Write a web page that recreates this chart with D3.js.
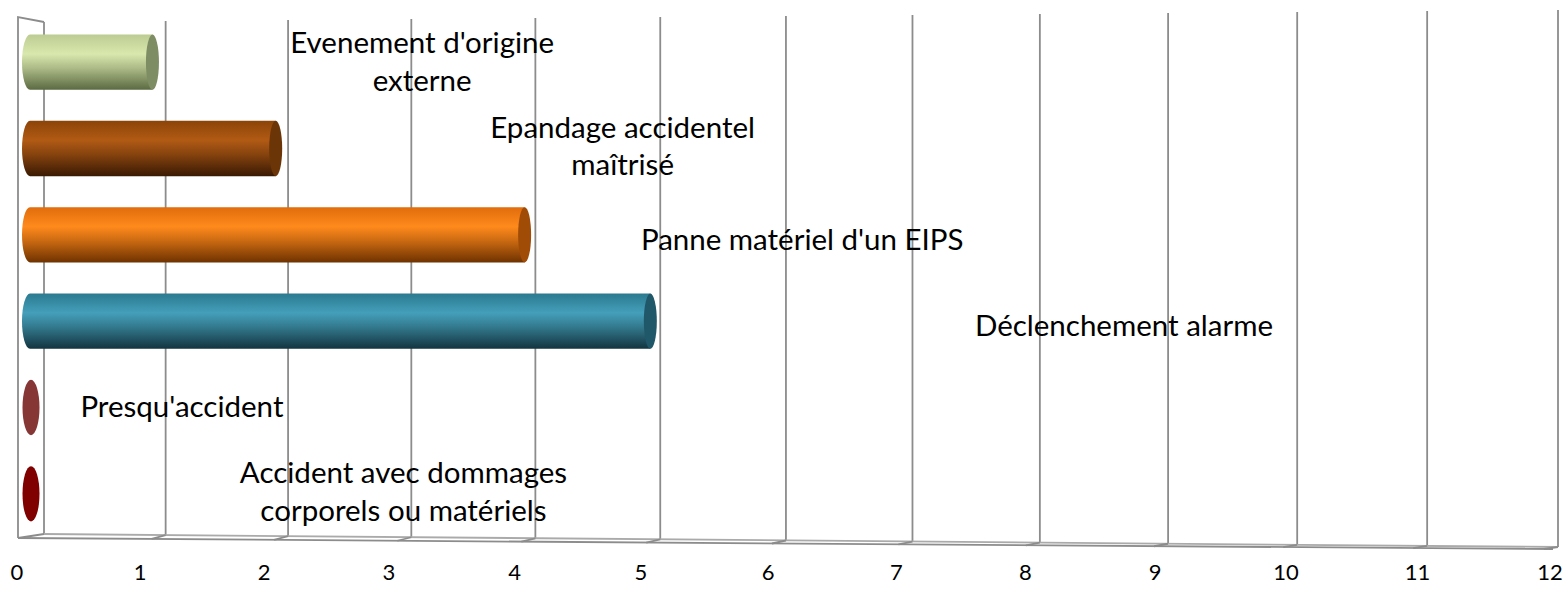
<!DOCTYPE html>
<html>
<head>
<meta charset="utf-8">
<script src="https://cdn.jsdelivr.net/npm/d3@7"></script>
<style>
  html, body { margin: 0; padding: 0; background: #fff; }
  svg { display: block; }
  text { font-family: Lato, "Noto Sans", sans-serif; fill: #000; }
</style>
</head>
<body>
<div id="chart"></div>
<script>
// categories listed top to bottom, as drawn
const categories = [
  "Evenement d'origine externe",
  "Epandage accidentel maîtrisé",
  "Panne matériel d'un EIPS",
  "Déclenchement alarme",
  "Presqu'accident",
  "Accident avec dommages corporels ou matériels"
];
const values = [1, 2, 4, 5, 0, 0];
const labelLines = [
  ["Evenement d'origine", "externe"],
  ["Epandage accidentel", "maîtrisé"],
  ["Panne matériel d'un EIPS"],
  ["Déclenchement alarme"],
  ["Presqu'accident"],
  ["Accident avec dommages", "corporels ou matériels"]
];
// where excel dropped each data label: along the axis (units) and across the row (fraction of a row)
const labelAt = [3.18, 4.78, 6.2, 8.71, 1.24, 3.03];
const labelShift = [-0.017, -0.035, 0.046, 0.046, -0.016, -0.035];
const tickValues = [0, 1, 2, 3, 4, 5, 6, 7, 8, 9, 10, 11, 12];

// [top edge, highlight, bottom, end cap]
const barColors = [
  ["#bccc92", "#d9e8ad", "#5c6a42", "#7e8d63"],
  ["#8c4408", "#b15a14", "#3a1a03", "#6b3507"],
  ["#e06c0c", "#ff8a1c", "#6e3200", "#a04c06"],
  ["#2b7a90", "#449fba", "#12343f", "#20586a"],
  ["#873636", "#873636", "#873636", "#873636"],
  ["#800000", "#800000", "#800000", "#800000"]
];

const W = 1566, H = 590;
const svg = d3.select('#chart').append('svg')
  .attr('width', W).attr('height', H);

// slight perspective along the value axis
const t = d3.scaleLinear().domain([0, 12]).range([0, 1]);
const q = 0.961;
const warp = v => { const u = t(v); return q * u / (1 - (1 - q) * u); };
const back = d3.scaleLinear().domain([0, 1]).range([44, 1558]);
const mid = d3.scaleLinear().domain([0, 1]).range([30, 1554]);
const front = d3.scaleLinear().domain([0, 1]).range([17, 1550]);
const xb = v => back(warp(v));
const xm = v => mid(warp(v));
const xf = v => front(warp(v));
const topY = d3.scaleLinear().domain([0, 1]).range([22, 10]);
const botY = d3.scaleLinear().domain([0, 1]).range([534, 547]);
const floorY = d3.scaleLinear().domain([0, 1]).range([538, 549]);

const y = d3.scaleBand().domain(categories).range([19, 537])
  .paddingInner(0.36).paddingOuter(0.18);
const step = y.step();

const grid = svg.append('g').attr('class', 'grid')
  .attr('stroke', '#8c8c8c').attr('stroke-width', 1.8).attr('fill', 'none');

// back wall gridlines
grid.selectAll('line.v').data(tickValues).enter().append('line')
  .attr('class', 'v')
  .attr('x1', d => xb(d)).attr('x2', d => xb(d))
  .attr('y1', d => topY(t(d))).attr('y2', d => botY(t(d)));

// floor edges + little corner ticks
grid.append('line')
  .attr('x1', xb(0)).attr('y1', botY(0)).attr('x2', xb(12)).attr('y2', botY(1))
  .attr('stroke', '#aaaaaa');
grid.append('line')
  .attr('x1', 18).attr('y1', floorY(0)).attr('x2', xf(12) + 3).attr('y2', floorY(1));
grid.selectAll('line.c').data(tickValues).enter().append('line')
  .attr('class', 'c')
  .attr('x1', d => xb(d)).attr('y1', d => botY(t(d)))
  .attr('x2', d => d === 0 ? 18 : xb(d) - 14).attr('y2', d => floorY(t(d)));

// left side wall
grid.append('path')
  .attr('d', `M18,${floorY(0)} L18,17 L${xb(0)},${topY(0)}`);

// gradients for the cylinders
const defs = svg.append('defs');
barColors.forEach((c, i) => {
  const g = defs.append('linearGradient').attr('id', 'cyl' + i)
    .attr('x1', 0).attr('y1', 0).attr('x2', 0).attr('y2', 1);
  g.append('stop').attr('offset', '0%').attr('stop-color', c[0]);
  g.append('stop').attr('offset', '35%').attr('stop-color', c[1]);
  g.append('stop').attr('offset', '60%').attr('stop-color', d3.interpolateRgb(c[1], c[2])(0.35));
  g.append('stop').attr('offset', '100%').attr('stop-color', c[2]);
});

const bars = svg.append('g').attr('class', 'bars');
categories.forEach((cat, i) => {
  const v = values[i];
  const cy = y(cat) + y.bandwidth() / 2;
  const ry = y.bandwidth() / 2;
  const x0 = xm(0), x1 = xm(v);
  if (v === 0) {
    bars.append('ellipse')
      .attr('cx', x0 + 1).attr('cy', cy).attr('rx', 8.5).attr('ry', ry)
      .attr('fill', barColors[i][3]);
    return;
  }
  bars.append('path')
    .attr('d', `M${x1},${cy - ry} L${x0},${cy - ry} A8,${ry} 0 0 0 ${x0},${cy + ry} L${x1},${cy + ry} Z`)
    .attr('fill', `url(#cyl${i})`);
  bars.append('ellipse')
    .attr('cx', x1).attr('cy', cy).attr('rx', 6.5).attr('ry', ry)
    .attr('fill', barColors[i][3]);
});

// data labels (category names)
const labels = svg.append('g').attr('class', 'labels');
categories.forEach((cat, i) => {
  const cy = y(cat) + y.bandwidth() / 2 + labelShift[i] * step;
  const lines = labelLines[i];
  const txt = labels.append('text')
    .attr('x', xm(labelAt[i]))
    .attr('y', cy + 11 - (lines.length - 1) * 18.5)
    .attr('text-anchor', 'middle')
    .style('font-size', '29.5px');
  lines.forEach((l, k) => {
    txt.append('tspan').attr('x', xm(labelAt[i])).attr('dy', k === 0 ? 0 : 37.5).text(l);
  });
});

// value axis tick labels
svg.append('g').attr('class', 'ticks').selectAll('text')
  .data(tickValues).enter().append('text')
  .attr('x', d => xf(d)).attr('y', 580)
  .attr('text-anchor', 'middle')
  .style('font-size', '22px')
  .text(d => d);
</script>
</body>
</html>
